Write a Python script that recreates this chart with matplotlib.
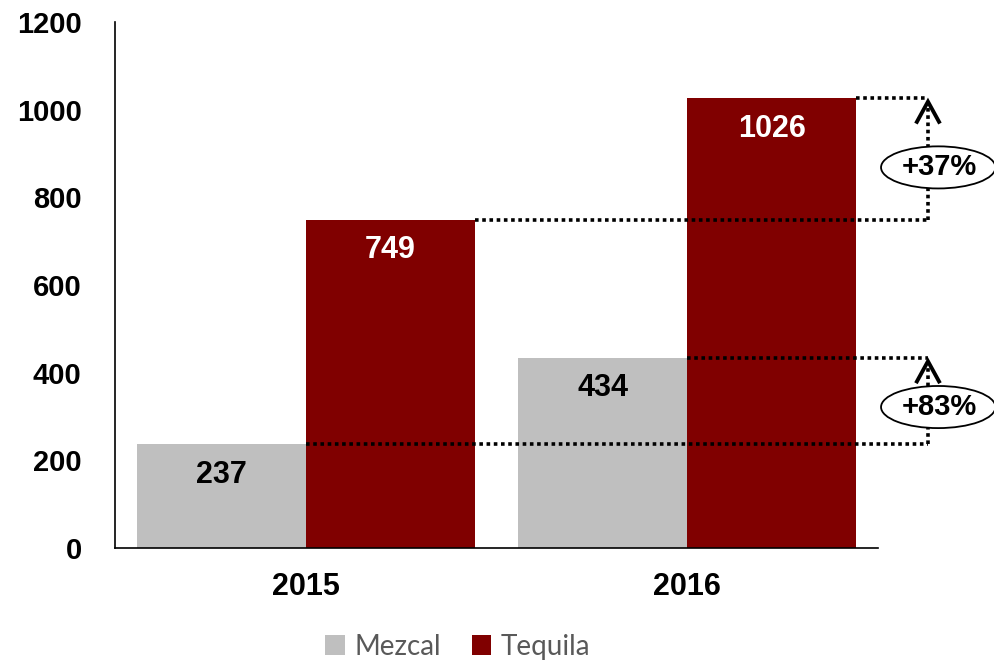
import matplotlib.pyplot as plt
from matplotlib.patches import Ellipse
import numpy as np

# sales volume by year
years = ["2015", "2016"]
mezcal = [237, 434]
tequila = [749, 1026]

grey = "#BFBFBF"
dark_red = "#800000"

plt.rcParams['font.family'] = ['Liberation Sans', 'DejaVu Sans']

fig = plt.figure(figsize=(9.95, 6.62), dpi=100)
ax = fig.add_axes([0.1156, 0.172, 0.7668, 0.795])

x = np.arange(len(years))
w = 0.443
b1 = ax.bar(x - w / 2, mezcal, w, color=grey, label="Mezcal")
b2 = ax.bar(x + w / 2, tequila, w, color=dark_red, label="Tequila")

# value labels inside the bars
for xi, v in zip(x - w / 2, mezcal):
    ax.annotate(str(v), (xi, v), xytext=(0, -22), textcoords="offset points",
                ha="center", va="center", fontsize=22, fontweight="bold", color="black")
for xi, v in zip(x + w / 2, tequila):
    ax.annotate(str(v), (xi, v), xytext=(0, -22), textcoords="offset points",
                ha="center", va="center", fontsize=22, fontweight="bold", color="white")

ax.set_xlim(-0.5, 1.5)
ax.set_ylim(0, 1200)
ax.set_yticks(range(0, 1201, 200))
ax.set_xticks(x)
ax.set_xticklabels(years)
ax.tick_params(axis="y", length=0, labelsize=21, pad=24)
ax.tick_params(axis="x", length=0, labelsize=22, pad=17)
for lab in ax.get_xticklabels() + ax.get_yticklabels():
    lab.set_fontweight("bold")
for s in ["top", "right"]:
    ax.spines[s].set_visible(False)
for s in ["left", "bottom"]:
    ax.spines[s].set_linewidth(1.2)


def growth(ax, x_start_lo, x_start_hi, lo, hi, xr):
    dot = dict(color="black", lw=2.6, linestyle=(0, (1, 1)), clip_on=False,
               solid_capstyle="butt", dash_capstyle="butt")
    ax.plot([x_start_lo, xr], [lo, lo], **dot)
    ax.plot([x_start_hi, xr], [hi, hi], **dot)
    ax.plot([xr, xr], [lo, hi - 20], **dot)
    # open arrow head just under the upper line
    ax.plot([xr - 0.029, xr, xr + 0.029], [hi - 54, hi - 8, hi - 54],
            color="black", lw=2.8, solid_joinstyle="miter", clip_on=False)
    pct = (hi / lo - 1) * 100
    yc = (lo + hi) / 2 - 0.07 * (hi - lo)
    ell = Ellipse((xr + 0.027, yc), 0.300, 96, facecolor="white",
                  edgecolor="black", lw=1.3, clip_on=False, zorder=5)
    ax.add_patch(ell)
    ax.text(xr + 0.03, yc, f"+{pct:.0f}%", ha="center", va="center",
            fontsize=21, fontweight="bold", zorder=6, clip_on=False)


xr = 1.631
growth(ax, x[0] + w, x[1] + w, tequila[0], tequila[1], xr)
growth(ax, x[0], x[1], mezcal[0], mezcal[1], xr)

leg = fig.legend(loc="center", bbox_to_anchor=(0.46, 0.023), ncol=2, frameon=False,
                 handlelength=0.7, handleheight=0.7,
                 handletextpad=0.35, columnspacing=1.1,
                 prop={'family': ['Lato', 'DejaVu Sans'], 'size': 20})
for t in leg.get_texts():
    t.set_color("#595959")

fig.savefig("out.png", dpi=100)
